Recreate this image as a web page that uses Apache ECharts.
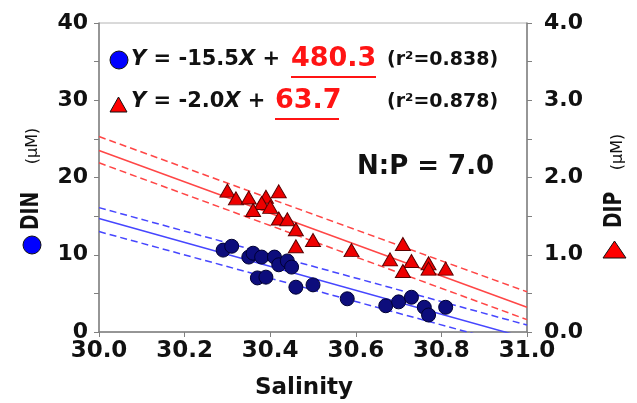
<!DOCTYPE html>
<html>
<head>
<meta charset="utf-8">
<script src="https://cdn.jsdelivr.net/npm/echarts@6/dist/echarts.min.js"></script>
<style>
  html, body { margin: 0; padding: 0; background: #fff; }
  #chart { width: 637px; height: 403px; }
</style>
</head>
<body>
<div id="chart"></div>
<script>
// DIN samples (blue circles, left axis, µM)
const dinSalinity = [30.29, 30.31, 30.35, 30.36, 30.38, 30.41, 30.42, 30.44, 30.45, 30.37,
                     30.39, 30.46, 30.50, 30.58, 30.67, 30.70, 30.73, 30.76, 30.77, 30.81];
const dinValues   = [10.6, 11.1, 9.7, 10.2, 9.7, 9.7, 8.7, 9.2, 8.4, 7.0,
                     7.1, 5.8, 6.1, 4.3, 3.4, 3.9, 4.5, 3.2, 2.2, 3.2];

// DIP samples (red triangles, right axis, µM)
const dipSalinity = [30.30, 30.32, 30.35, 30.39, 30.42, 30.38, 30.36, 30.40, 30.42, 30.44,
                     30.46, 30.46, 30.50, 30.59, 30.71, 30.68, 30.73, 30.77, 30.77, 30.71, 30.81];
const dipValues   = [1.83, 1.73, 1.74, 1.75, 1.82, 1.67, 1.58, 1.62, 1.47, 1.46,
                     1.33, 1.11, 1.19, 1.06, 1.14, 0.94, 0.92, 0.89, 0.82, 0.79, 0.82];

// regression line and its bands, read at both ends of the salinity axis
const fitEnds     = [30.0, 31.0];
const dinFit      = [14.7, -0.8];
const dinFitUpper = [16.1, 0.9];
const dinFitLower = [13.0, -2.1];
const dipFit      = [2.35, 0.32];
const dipFitUpper = [2.53, 0.52];
const dipFitLower = [2.19, 0.16];

// equations printed in the plot
const dinEquation = ['-15.5', '480.3', '0.838'];
const dipEquation = ['-2.0', '63.7', '0.878'];
const npRatio = '7.0';

const FONT = 'DejaVu Sans';
const myChart = echarts.init(document.getElementById('chart'));

// fitted line or confidence band
function fitLine(values, axisIndex, color, dashed) {
    return {
        type: 'line',
        yAxisIndex: axisIndex,
        data: fitEnds.map((x, i) => [x, values[i]]),
        symbol: 'none',
        silent: true,
        clip: true,
        z: 1,
        lineStyle: { color: color, width: 1.5, type: dashed ? [7, 4] : 'solid' }
    };
}

const labelStyle = { color: '#111', fontFamily: FONT, fontWeight: 'bold' };
const italic = { fontStyle: 'italic', fontWeight: 'bold', fontSize: 21, fontFamily: FONT, fill: '#111' };

myChart.setOption({
    animation: false,
    grid: {
        left: 99, right: 110, top: 23, bottom: 71,
        show: true, borderColor: '#b4b4b4', borderWidth: 1,
        outerBoundsMode: 'none'
    },
    xAxis: {
        type: 'value', min: 30, max: 31, interval: 0.2,
        axisLine: { show: true, lineStyle: { color: '#808080', width: 1.5 } },
        axisTick: { show: true, length: 5, lineStyle: { color: '#808080' } },
        splitLine: { show: false },
        axisLabel: Object.assign({ fontSize: 23, margin: 8, formatter: v => v.toFixed(1) }, labelStyle)
    },
    yAxis: [
        {
            type: 'value', min: 0, max: 40, interval: 10,
            axisLine: { show: true, lineStyle: { color: '#808080', width: 1.5 } },
            axisTick: { show: true, length: 5, lineStyle: { color: '#808080' } },
            minorTick: { show: true, splitNumber: 2, length: 5, lineStyle: { color: '#808080' } },
            splitLine: { show: false },
            axisLabel: Object.assign({ fontSize: 22, margin: 11 }, labelStyle)
        },
        {
            type: 'value', min: 0, max: 4, interval: 1, position: 'right',
            axisLine: { show: true, lineStyle: { color: '#808080', width: 1.5 } },
            axisTick: { show: true, length: 5, lineStyle: { color: '#808080' } },
            minorTick: { show: true, splitNumber: 2, length: 5, lineStyle: { color: '#808080' } },
            splitLine: { show: false },
            axisLabel: Object.assign({ fontSize: 22, margin: 17, formatter: v => v.toFixed(1) }, labelStyle)
        }
    ],
    series: [
        fitLine(dipFitUpper, 1, '#ff4646', true),
        fitLine(dipFit, 1, '#ff4646', false),
        fitLine(dipFitLower, 1, '#ff4646', true),
        fitLine(dinFitUpper, 0, '#4646ff', true),
        fitLine(dinFit, 0, '#4646ff', false),
        fitLine(dinFitLower, 0, '#4646ff', true),
        {
            type: 'scatter', yAxisIndex: 0, z: 3,
            data: dinSalinity.map((x, i) => [x, dinValues[i]]),
            symbol: 'circle', symbolSize: 14,
            itemStyle: { color: '#0d0d7c', borderColor: '#000033', borderWidth: 1, opacity: 1 }
        },
        {
            type: 'scatter', yAxisIndex: 1, z: 3,
            data: dipSalinity.map((x, i) => [x, dipValues[i]]),
            symbol: 'triangle', symbolSize: [15, 13],
            itemStyle: { color: '#ee0000', borderColor: '#5a0000', borderWidth: 1, opacity: 1 }
        }
    ],
    graphic: [
        // equation for DIN
        { type: 'circle', shape: { cx: 119, cy: 60, r: 9 }, style: { fill: '#0000ff', stroke: '#111', lineWidth: 1 } },
        { type: 'text', x: 131, y: 60, style: {
            text: '{i|Y} = ' + dinEquation[0] + '{i|X} +', rich: { i: italic },
            fontSize: 21, fontWeight: 'bold', fontFamily: FONT, fill: '#111', verticalAlign: 'middle' } },
        { type: 'text', x: 291, y: 59, style: {
            text: dinEquation[1], fontSize: 27, fontWeight: 'bold', fontFamily: FONT, fill: '#ff1414', verticalAlign: 'middle' } },
        { type: 'line', shape: { x1: 291, y1: 77, x2: 376, y2: 77 }, style: { stroke: '#ff1414', lineWidth: 2 } },
        { type: 'text', x: 387, y: 60, style: {
            text: '(r²=' + dinEquation[2] + ')', fontSize: 19, fontWeight: 'bold', fontFamily: FONT, fill: '#111', verticalAlign: 'middle' } },

        // equation for DIP
        { type: 'polygon', shape: { points: [[110, 112], [127, 112], [118.5, 97]] }, style: { fill: '#ff0000', stroke: '#111', lineWidth: 1 } },
        { type: 'text', x: 131, y: 102, style: {
            text: '{i|Y} = ' + dipEquation[0] + '{i|X} +', rich: { i: italic },
            fontSize: 21, fontWeight: 'bold', fontFamily: FONT, fill: '#111', verticalAlign: 'middle' } },
        { type: 'text', x: 275, y: 101, style: {
            text: dipEquation[1], fontSize: 27, fontWeight: 'bold', fontFamily: FONT, fill: '#ff1414', verticalAlign: 'middle' } },
        { type: 'line', shape: { x1: 275, y1: 119, x2: 339, y2: 119 }, style: { stroke: '#ff1414', lineWidth: 2 } },
        { type: 'text', x: 387, y: 102, style: {
            text: '(r²=' + dipEquation[2] + ')', fontSize: 19, fontWeight: 'bold', fontFamily: FONT, fill: '#111', verticalAlign: 'middle' } },

        { type: 'text', x: 357, y: 167, style: {
            text: 'N:P = ' + npRatio, fontSize: 26, fontWeight: 'bold', fontFamily: FONT, fill: '#111', verticalAlign: 'middle' } },

        // axis names
        { type: 'text', x: 304, y: 388, style: {
            text: 'Salinity', fontSize: 23, fontWeight: 'bold', fontFamily: FONT, fill: '#111', align: 'center', verticalAlign: 'middle' } },
        { type: 'circle', shape: { cx: 32, cy: 245, r: 9 }, style: { fill: '#0000ff', stroke: '#111', lineWidth: 1 } },
        { type: 'text', x: 32, y: 211, rotation: Math.PI / 2, scaleX: 0.78, style: {
            text: 'DIN', fontSize: 24, fontWeight: 'bold', fontFamily: FONT, fill: '#111', align: 'center', verticalAlign: 'middle' } },
        { type: 'text', x: 33, y: 146, rotation: Math.PI / 2, style: {
            text: '(μM)', fontSize: 16, fontFamily: FONT, fill: '#111', align: 'center', verticalAlign: 'middle' } },
        { type: 'polygon', shape: { points: [[603, 258], [626, 258], [614.5, 241]] }, style: { fill: '#ff0000', stroke: '#111', lineWidth: 1 } },
        { type: 'text', x: 615, y: 210, rotation: Math.PI / 2, scaleX: 0.78, style: {
            text: 'DIP', fontSize: 24, fontWeight: 'bold', fontFamily: FONT, fill: '#111', align: 'center', verticalAlign: 'middle' } },
        { type: 'text', x: 618, y: 152, rotation: Math.PI / 2, style: {
            text: '(μM)', fontSize: 16, fontFamily: FONT, fill: '#111', align: 'center', verticalAlign: 'middle' } }
    ]
});
</script>
</body>
</html>
